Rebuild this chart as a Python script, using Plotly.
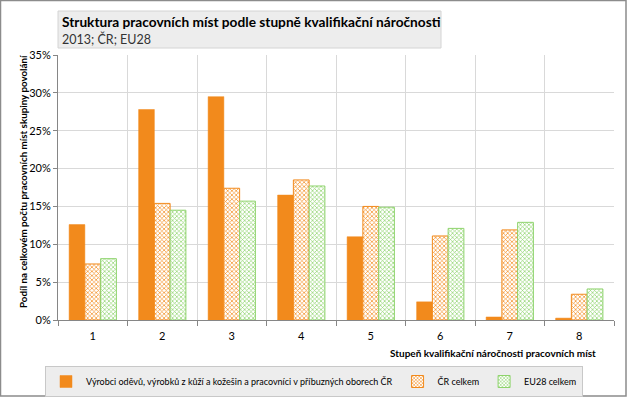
import plotly.graph_objects as go

categories = ["1", "2", "3", "4", "5", "6", "7", "8"]
vyrobci = [12.6, 27.8, 29.5, 16.5, 11.0, 2.4, 0.4, 0.25]
cr_celkem = [7.4, 15.4, 17.4, 18.5, 15.0, 11.1, 11.9, 3.4]
eu28_celkem = [8.1, 14.5, 15.7, 17.7, 14.9, 12.1, 12.9, 4.1]
y_ticks = [0, 5, 10, 15, 20, 25, 30, 35]
y_tick_labels = ["0%", "5%", "10%", "15%", "20%", "25%", "30%", "35%"]

names = [
    "Výrobci oděvů, výrobků z kůží a kožešin a pracovníci v příbuzných oborech ČR",
    "ČR celkem",
    "EU28 celkem",
]

ORANGE = "#F28A1C"
GREEN = "#8ED36C"
FONT = "Lato"

W, H = 627, 397
L, R, T, B = 58, 13, 55, 77
PW, PH = W - L - R, H - T - B


def px(x):
    return (x - L) / PW


def py(y):
    return (H - B - y) / PH


fig = go.Figure()
fig.add_trace(go.Bar(
    x=categories, y=vyrobci, name=names[0],
    marker=dict(color=ORANGE, line=dict(color=ORANGE, width=0.5)),
))
fig.add_trace(go.Bar(
    x=categories, y=cr_celkem, name=names[1],
    marker=dict(color=ORANGE, line=dict(color=ORANGE, width=1),
                pattern=dict(shape="x", fgcolor=ORANGE, bgcolor="white",
                             size=3, solidity=0.4, fillmode="replace")),
))
fig.add_trace(go.Bar(
    x=categories, y=eu28_celkem, name=names[2],
    marker=dict(color=GREEN, line=dict(color=GREEN, width=1),
                pattern=dict(shape="x", fgcolor=GREEN, bgcolor="white",
                             size=3, solidity=0.4, fillmode="replace")),
))

shapes = [
    dict(type="rect", xref="paper", yref="paper",
         x0=px(0.5), x1=px(626), y0=py(396), y1=py(0.5),
         line=dict(color="#8c8c8c", width=1.5), fillcolor="rgba(0,0,0,0)", layer="below"),
    dict(type="rect", xref="paper", yref="paper",
         x0=px(58), x1=px(441), y0=py(48), y1=py(11),
         line=dict(color="#d4d4d4", width=1), fillcolor="#ededed", layer="below"),
]

annotations = [
    dict(text="<b>Struktura pracovních míst podle stupně kvalifikační náročnosti</b>",
         xref="paper", yref="paper", x=px(60), y=py(21), xanchor="left", yanchor="middle",
         showarrow=False, font=dict(family=FONT, size=13.7, color="#000000")),
    dict(text="2013; ČR; EU28",
         xref="paper", yref="paper", x=px(60), y=py(39), xanchor="left", yanchor="middle",
         showarrow=False, font=dict(family=FONT, size=12.5, color="#333333")),
    dict(text="<b>Stupeň kvalifikační náročnosti pracovních míst</b>",
         xref="paper", yref="paper", x=px(598), y=py(353), xanchor="right", yanchor="middle",
         showarrow=False, font=dict(family=FONT, size=10, color="#000000")),
    dict(text="<b>Podíl na celkovém počtu pracovních míst skupiny povolání</b>",
         xref="paper", yref="paper", x=px(23), y=py(182), xanchor="center", yanchor="middle",
         textangle=-90, showarrow=False, font=dict(family=FONT, size=9.8, color="#000000")),
]

fig.update_layout(
    width=W, height=H,
    margin=dict(l=L, r=R, t=T, b=B, autoexpand=False),
    paper_bgcolor="white", plot_bgcolor="white",
    barmode="group", bargap=0.32, bargroupgap=0,
    font=dict(family=FONT, size=10, color="#000000"),
    showlegend=True,
    legend=dict(orientation="h", x=px(45), y=py(366), xanchor="left", yanchor="top",
                bgcolor="#ededed", bordercolor="#c8c8c8", borderwidth=1,
                font=dict(family=FONT, size=9, color="#000000"),
                itemwidth=30, tracegroupgap=0),
    shapes=shapes,
    annotations=annotations,
)
fig.update_xaxes(
    type="category", tickson="boundaries", ticks="outside", ticklen=5,
    tickcolor="#868686", showline=True, linecolor="#868686", linewidth=1,
    showgrid=True, gridcolor="#d9d9d9", gridwidth=1,
    ticklabelstandoff=6,
    tickfont=dict(family=FONT, size=11, color="#000000"),
)
fig.update_yaxes(
    range=[0, 35], tickvals=y_ticks, ticktext=y_tick_labels,
    ticks="outside", ticklen=4, tickcolor="#868686",
    showline=True, linecolor="#868686", linewidth=1,
    showgrid=True, gridcolor="#d9d9d9", gridwidth=1, zeroline=False,
    tickfont=dict(family=FONT, size=11, color="#000000"),
)

fig.write_html("out.html", config={"displayModeBar": False},
               post_script="document.body.style.margin='0';")
